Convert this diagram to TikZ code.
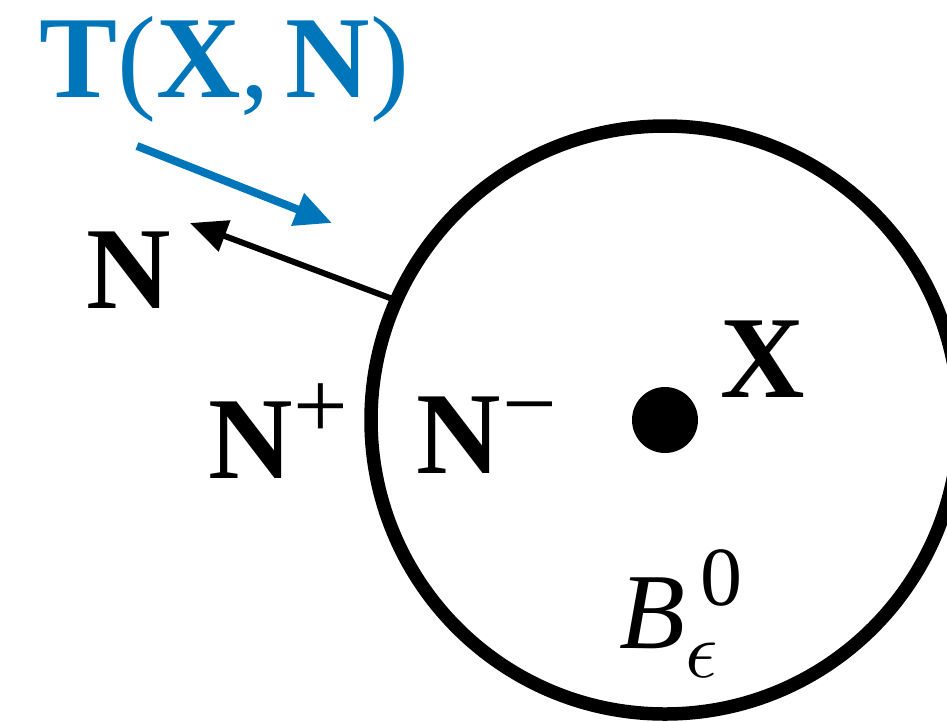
\documentclass[tikz,border=0pt]{standalone}
\usepackage{graphicx}
\usepackage{fontspec}
\setmainfont{Liberation Serif}
\usetikzlibrary{arrows.meta}
\definecolor{tblue}{RGB}{0,118,186}
\tikzset{
  lbl/.style={inner sep=0pt, outer sep=0pt, anchor=base west, font=\fontsize{117}{130}\selectfont},
  suplbl/.style={inner sep=0pt, outer sep=0pt, anchor=base west, font=\fontsize{97}{110}\selectfont},
}
\begin{document}
\begin{tikzpicture}[x=1pt,y=-1pt]
\useasboundingbox (0,0) rectangle (947,721);
% ball
\node[circle, draw, line width=13.5pt, minimum size=588pt, inner sep=0pt, outer sep=0pt] (ball) at (665,420) {};
\node[circle, fill, minimum size=66pt, inner sep=0pt] (dot) at (665,420) {};
% labels
\node[lbl, text=tblue] (T) at (39,97) {\textbf{T}(\textbf{X},\hspace{16pt}\textbf{N})};
\node[lbl] (N) at (86,308) {\textbf{N}};
\node[lbl] (Np) at (208,478) {\textbf{N}};
\node[suplbl] (plus) at (293,438) {+};
\node[lbl] (Nm) at (416,473) {\textbf{N}};
\node[suplbl] (minus) at (502,436) {−};
\node[lbl] (X) at (720,397) {\textbf{X}};
\node[inner sep=0pt, outer sep=0pt, anchor=base west, font=\fontsize{108}{120}\selectfont] (B) at (619,648) {\textit{B}};
\node[inner sep=0pt, outer sep=0pt, anchor=base west, font=\fontsize{84}{95}\selectfont] (zero) at (700,605) {0};
\node[inner sep=0pt, outer sep=0pt, anchor=base west] (eps) at (685,677) {\scalebox{8}{$\epsilon$}};
% arrows
\coordinate (btip) at (190,223);
\draw[line width=6pt, -{Triangle[length=37pt,width=32pt]}] (ball.156) -- (btip);
\coordinate (tstart) at (137,146);
\coordinate (ttip) at (332,223);
\draw[tblue, line width=8pt, -{Triangle[length=37pt,width=33pt]}] (tstart) -- (ttip);
\end{tikzpicture}
\end{document}
